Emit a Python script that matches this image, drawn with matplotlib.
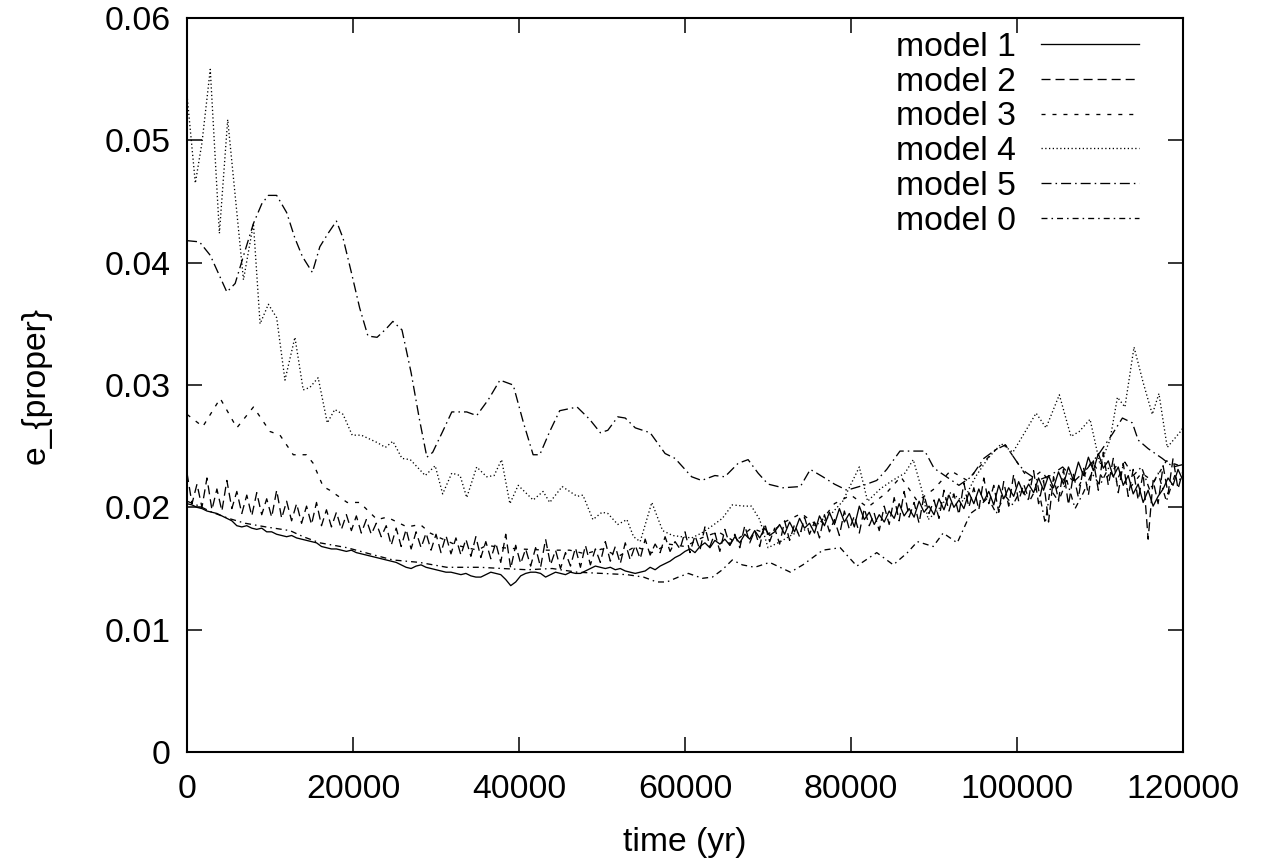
import numpy as np
import matplotlib
matplotlib.use("Agg")
import matplotlib.pyplot as plt

plt.rcParams['font.family'] = ['Liberation Sans', 'DejaVu Sans']
plt.rcParams['lines.scale_dashes'] = False

# ---------------- data ----------------
STEP = 600  # regular sampling of the noisy series (yr)

model1 = [
    0.0203, 0.0202, 0.0200, 0.0199, 0.0197, 0.0196, 0.0195, 0.0193, 0.0191, 0.0189,
    0.0185, 0.0184, 0.0185, 0.0183, 0.0182, 0.0183, 0.0180, 0.0180, 0.0178, 0.0177,
    0.0176, 0.0177, 0.0175, 0.0174, 0.0173, 0.0172, 0.0171, 0.0168, 0.0167, 0.0166,
    0.0166, 0.0165, 0.0164, 0.0165, 0.0163, 0.0162, 0.0161, 0.0160, 0.0159, 0.0158,
    0.0157, 0.0156, 0.0155, 0.0153, 0.0151, 0.0150, 0.0152, 0.0153, 0.0151, 0.0150,
    0.0149, 0.0148, 0.0147, 0.0147, 0.0146, 0.0145, 0.0146, 0.0144, 0.0143, 0.0143,
    0.0145, 0.0147, 0.0146, 0.0145, 0.0141, 0.0136, 0.0139, 0.0144, 0.0146, 0.0147,
    0.0147, 0.0146, 0.0143, 0.0145, 0.0147, 0.0146, 0.0145, 0.0147, 0.0146, 0.0146,
    0.0148, 0.0150, 0.0152, 0.0151, 0.0150, 0.0151, 0.0149, 0.0150, 0.0148, 0.0147,
    0.0146, 0.0147, 0.0148, 0.0151, 0.0149, 0.0152, 0.0154, 0.0156, 0.0159, 0.0161,
    0.0164, 0.0166, 0.0163, 0.0168, 0.0171, 0.0167, 0.0173, 0.0170, 0.0174, 0.0169,
    0.0176, 0.0171, 0.0178, 0.0174, 0.0181, 0.0175, 0.0183, 0.0177, 0.0180, 0.0186,
    0.0178, 0.0188, 0.0180, 0.0191, 0.0183, 0.0187, 0.0179, 0.0193, 0.0185, 0.0196,
    0.0186, 0.0199, 0.0188, 0.0195, 0.0184, 0.0201, 0.0190, 0.0196, 0.0186, 0.0194,
    0.0188, 0.0197, 0.0191, 0.0203, 0.0193, 0.0199, 0.0192, 0.0205, 0.0196, 0.0201,
    0.0194, 0.0207, 0.0198, 0.0210, 0.0200, 0.0206, 0.0199, 0.0212, 0.0203, 0.0215,
    0.0205, 0.0213, 0.0202, 0.0218, 0.0207, 0.0216, 0.0209, 0.0221, 0.0211, 0.0219,
    0.0212, 0.0224, 0.0214, 0.0226, 0.0216, 0.0229, 0.0219, 0.0233, 0.0222, 0.0237,
    0.0226, 0.0241, 0.0230, 0.0244, 0.0232, 0.0238, 0.0225, 0.0233, 0.0218, 0.0226,
    0.0211, 0.0219, 0.0204, 0.0214, 0.0201, 0.0209, 0.0215, 0.0224, 0.0218, 0.0231,
    0.0222,
]

model2 = [
    0.0228, 0.0203, 0.0219, 0.0200, 0.0224, 0.0198, 0.0215, 0.0197, 0.0222, 0.0199,
    0.0213, 0.0195, 0.0210, 0.0193, 0.0212, 0.0194, 0.0207, 0.0192, 0.0214, 0.0191,
    0.0205, 0.0189, 0.0203, 0.0187, 0.0201, 0.0186, 0.0204, 0.0185, 0.0198, 0.0184,
    0.0196, 0.0182, 0.0194, 0.0181, 0.0193, 0.0179, 0.0190, 0.0178, 0.0187, 0.0176,
    0.0185, 0.0169, 0.0183, 0.0168, 0.0182, 0.0166, 0.0180, 0.0167, 0.0179, 0.0165,
    0.0178, 0.0163, 0.0177, 0.0162, 0.0175, 0.0161, 0.0174, 0.0160, 0.0176, 0.0159,
    0.0172, 0.0158, 0.0171, 0.0155, 0.0178, 0.0150, 0.0169, 0.0154, 0.0166, 0.0152,
    0.0167, 0.0151, 0.0174, 0.0153, 0.0165, 0.0150, 0.0163, 0.0152, 0.0167, 0.0151,
    0.0169, 0.0153, 0.0166, 0.0155, 0.0172, 0.0156, 0.0168, 0.0154, 0.0171, 0.0157,
    0.0169, 0.0158, 0.0174, 0.0161, 0.0170, 0.0163, 0.0176, 0.0164, 0.0172, 0.0166,
    0.0180, 0.0163, 0.0177, 0.0165, 0.0184, 0.0168, 0.0179, 0.0164, 0.0182, 0.0169,
    0.0178, 0.0167, 0.0185, 0.0171, 0.0181, 0.0168, 0.0187, 0.0172, 0.0183, 0.0170,
    0.0189, 0.0173, 0.0186, 0.0176, 0.0192, 0.0178, 0.0188, 0.0175, 0.0194, 0.0180,
    0.0190, 0.0177, 0.0197, 0.0182, 0.0193, 0.0179, 0.0199, 0.0185, 0.0195, 0.0181,
    0.0201, 0.0186, 0.0208, 0.0189, 0.0213, 0.0192, 0.0204, 0.0187, 0.0210, 0.0195,
    0.0206, 0.0191, 0.0214, 0.0197, 0.0211, 0.0194, 0.0220, 0.0200, 0.0216, 0.0198,
    0.0224, 0.0203, 0.0218, 0.0196, 0.0221, 0.0201, 0.0227, 0.0205, 0.0219, 0.0207,
    0.0230, 0.0203, 0.0222, 0.0188, 0.0225, 0.0206, 0.0231, 0.0202, 0.0227, 0.0208,
    0.0233, 0.0210, 0.0238, 0.0214, 0.0245, 0.0218, 0.0240, 0.0212, 0.0236, 0.0209,
    0.0231, 0.0206, 0.0228, 0.0174, 0.0222, 0.0203, 0.0234, 0.0211, 0.0240, 0.0215,
    0.0230,
]

model3_t = [0, 1900, 4000, 6000, 8000, 10000, 11200, 12800, 14400, 15200, 16400, 17200,
            19300, 20800, 22900, 24100, 26500, 28100, 29300, 30500, 32500, 35000, 36100,
            38000, 40000, 43400, 46100, 48000, 50000, 52000, 54000, 56000, 58000, 60000,
            62000, 64000, 66000, 68000, 70000, 72000, 74000, 76000, 78000, 80000, 82000,
            84300, 86000, 88000, 90000, 92000, 94000, 96000, 97400, 98600, 100200, 101500,
            103000, 104500, 106000, 107500, 109000, 110500, 112000, 113500, 115000, 116500,
            118000, 120000]
model3_e = [0.0276, 0.0266, 0.0289, 0.0265, 0.0282, 0.0262, 0.0259, 0.0243, 0.0243, 0.0236,
            0.0217, 0.0214, 0.0204, 0.0204, 0.0190, 0.0192, 0.0184, 0.0186, 0.0179, 0.0175,
            0.0169, 0.0165, 0.0169, 0.0167, 0.0166, 0.0165, 0.0165, 0.0162, 0.0166, 0.0160,
            0.0168, 0.0163, 0.0170, 0.0168, 0.0175, 0.0180, 0.0172, 0.0183, 0.0178, 0.0188,
            0.0195, 0.0185, 0.0203, 0.0210, 0.0200, 0.0212, 0.0225, 0.0205, 0.0215, 0.0230,
            0.0222, 0.0237, 0.0247, 0.0251, 0.0235, 0.0222, 0.0230, 0.0213, 0.0226, 0.0218,
            0.0238, 0.0222, 0.0234, 0.0215, 0.0228, 0.0221, 0.0238, 0.0233]

model4_t = [0, 1000, 1800, 2800, 3900, 4900, 6800, 8000, 8800, 9800, 10800, 11800, 13000,
            14000, 14800, 15800, 16900, 17800, 18800, 19900, 21000, 22900, 23900, 24800,
            25900, 26900, 28700, 29900, 30800, 31900, 32900, 33700, 34900, 36100, 37000,
            37900, 38900, 39900, 41700, 42900, 43700, 45200, 47000, 47700, 48900, 50000,
            50700, 51900, 53000, 53800, 54600, 56000, 57300, 58500, 59600, 60800, 62000,
            63300, 64500, 65700, 67200, 68000, 69000, 70000, 71500, 73000, 75000, 77000,
            79000, 81000, 82000, 83500, 85000, 86500, 87500, 88500, 89300, 90500, 92000,
            93500, 95000, 96500, 98100, 99500, 101000, 102300, 103500, 105100, 106500,
            107500, 108800, 110000, 111200, 112100, 113000, 114100, 115200, 116300, 117100,
            118100, 119700, 120000]
model4_e = [0.0537, 0.0465, 0.0498, 0.0558, 0.0424, 0.0517, 0.0386, 0.0432, 0.0350, 0.0366,
            0.0355, 0.0304, 0.0339, 0.0296, 0.0298, 0.0306, 0.0269, 0.0280, 0.0276, 0.0259,
            0.0259, 0.0253, 0.0249, 0.0254, 0.0240, 0.0239, 0.0226, 0.0234, 0.0211, 0.0228,
            0.0226, 0.0208, 0.0233, 0.0225, 0.0226, 0.0239, 0.0203, 0.0218, 0.0206, 0.0213,
            0.0204, 0.0217, 0.0209, 0.0210, 0.0190, 0.0196, 0.0195, 0.0186, 0.0190, 0.0176,
            0.0172, 0.0204, 0.0181, 0.0177, 0.0176, 0.0175, 0.0179, 0.0185, 0.0191, 0.0202,
            0.0201, 0.0201, 0.0190, 0.0167, 0.0172, 0.0178, 0.0183, 0.0190, 0.0205, 0.0233,
            0.0205, 0.0215, 0.0222, 0.0228, 0.0239, 0.0215, 0.0190, 0.0198, 0.0212, 0.0205,
            0.0225, 0.0240, 0.0252, 0.0245, 0.0262, 0.0277, 0.0265, 0.0292, 0.0258, 0.0262,
            0.0272, 0.0235, 0.0255, 0.0290, 0.0282, 0.0331, 0.0302, 0.0276, 0.0293, 0.0249,
            0.0262, 0.0265]

model5_t = [0, 1500, 2800, 4000, 4800, 5800, 7000, 8000, 9000, 9800, 10800, 12000, 13000,
            13900, 15100, 16000, 17000, 18000, 18800, 19800, 20800, 21800, 22900, 24000,
            24800, 25900, 27000, 28000, 28900, 29600, 30800, 31900, 33700, 34900, 36300,
            37700, 39300, 40500, 41700, 42500, 43700, 44900, 47000, 48500, 49800, 50700,
            51900, 52800, 54000, 55800, 57600, 58800, 60800, 62000, 63600, 64800, 66400,
            67600, 68800, 70000, 71800, 73900, 75100, 76600, 78000, 79500, 81500, 83100,
            84300, 85900, 88900, 90000, 91500, 93000, 94500, 96000, 97400, 98600, 100200,
            101000, 102500, 104000, 105500, 107000, 108500, 110000, 111500, 112700, 113900,
            114600, 115800, 117500, 118800, 120000]
model5_e = [0.0418, 0.0417, 0.0406, 0.0388, 0.0376, 0.0383, 0.0410, 0.0432, 0.0448, 0.0455,
            0.0455, 0.0441, 0.0420, 0.0405, 0.0392, 0.0413, 0.0424, 0.0434, 0.0420, 0.0392,
            0.0363, 0.0340, 0.0339, 0.0346, 0.0352, 0.0345, 0.0310, 0.0272, 0.0241, 0.0245,
            0.0262, 0.0278, 0.0278, 0.0275, 0.0288, 0.0304, 0.0300, 0.0270, 0.0243, 0.0243,
            0.0262, 0.0279, 0.0282, 0.0272, 0.0261, 0.0263, 0.0274, 0.0273, 0.0265, 0.0261,
            0.0244, 0.0240, 0.0225, 0.0222, 0.0226, 0.0225, 0.0236, 0.0239, 0.0228, 0.0219,
            0.0216, 0.0217, 0.0231, 0.0225, 0.0219, 0.0214, 0.0218, 0.0222, 0.0231, 0.0246,
            0.0246, 0.0232, 0.0225, 0.0218, 0.0225, 0.0240, 0.0247, 0.0251, 0.0235, 0.0229,
            0.0222, 0.0226, 0.0233, 0.0222, 0.0232, 0.0245, 0.0260, 0.0273, 0.0269, 0.0255,
            0.0248, 0.0240, 0.0233, 0.0235]

model0_t = [0, 1500, 3000, 5000, 7000, 9500, 12400, 14000, 16000, 19300, 22000, 24800,
            28000, 31300, 35300, 38000, 41000, 44000, 47000, 50000, 53000, 55000, 56600,
            57800, 59200, 60400, 62100, 63300, 64500, 65700, 66900, 68400, 70200, 72700,
            74200, 76600, 78700, 80700, 83100, 85100, 86800, 88000, 89900, 91100, 92800,
            94400, 95200, 96500, 97500, 98500, 99500, 100500, 101500, 102500, 103400, 104000,
            105000, 106000, 107000, 108000, 109000, 110000, 111000, 112000, 113000, 114000,
            115000, 116000, 117000, 118000, 119000, 120000]
model0_e = [0.0205, 0.0201, 0.0196, 0.0191, 0.0187, 0.0184, 0.0181, 0.0176, 0.0171, 0.0167,
            0.0162, 0.0157, 0.0155, 0.0151, 0.0151, 0.0150, 0.0149, 0.0150, 0.0147, 0.0146,
            0.0145, 0.0143, 0.0139, 0.0139, 0.0143, 0.0146, 0.0142, 0.0143, 0.0149, 0.0157,
            0.0153, 0.0151, 0.0155, 0.0147, 0.0153, 0.0165, 0.0167, 0.0152, 0.0163, 0.0153,
            0.0163, 0.0172, 0.0168, 0.0179, 0.0171, 0.0195, 0.0199, 0.0208, 0.0195, 0.0210,
            0.0202, 0.0215, 0.0205, 0.0218, 0.0187, 0.0215, 0.0205, 0.0222, 0.0199, 0.0212,
            0.0228, 0.0218, 0.0232, 0.0221, 0.0237, 0.0226, 0.0233, 0.0214, 0.0228, 0.0205,
            0.0226, 0.0221]

x_ticks = [0, 20000, 40000, 60000, 80000, 100000, 120000]
y_ticks = [0, 0.01, 0.02, 0.03, 0.04, 0.05, 0.06]
x_tick_labels = ["0", "20000", "40000", "60000", "80000", "100000", "120000"]
y_tick_labels = ["0", "0.01", "0.02", "0.03", "0.04", "0.05", "0.06"]

# ---------------- plot ----------------
fig = plt.figure(figsize=(12.62, 8.65), dpi=100)
ax = fig.add_axes([0.1482, 0.1306, 0.7892, 0.8486])

t12 = np.arange(len(model1)) * STEP
LW = 0.95
ax.plot(t12, model1, color='black', lw=LW, linestyle='-', label='model 1')
ax.plot(t12, model2, color='black', lw=LW, dashes=(6.5, 3.6), label='model 2')
ax.plot(model3_t, model3_e, color='black', lw=LW, dashes=(2.9, 5.0), label='model 3')
ax.plot(model4_t, model4_e, color='black', lw=LW, dashes=(0.9, 1.8), label='model 4')
ax.plot(model5_t, model5_e, color='black', lw=LW, dashes=(7.2, 2.9, 1.1, 2.9), label='model 5')
ax.plot(model0_t, model0_e, color='black', lw=LW, dashes=(4.3, 2.9, 1.1, 2.9), label='model 0')

ax.set_xlim(0, 120000)
ax.set_ylim(0, 0.06)
ax.set_xticks(x_ticks)
ax.set_xticklabels(x_tick_labels)
ax.set_yticks(y_ticks)
ax.set_yticklabels(y_tick_labels)
ax.minorticks_off()

FS = 24.3
ax.tick_params(axis='both', which='major', direction='in', length=10.8, width=1.1,
               top=True, right=True, labelsize=FS, colors='black')
ax.tick_params(axis='x', pad=16)
ax.tick_params(axis='y', pad=12)
for s in ax.spines.values():
    s.set_linewidth(1.5)

ax.set_xlabel('time (yr)', fontsize=FS, labelpad=16)
ax.set_ylabel('e_{proper}', fontsize=FS, labelpad=38)

leg = ax.legend(loc='upper right', bbox_to_anchor=(0.956, 0.981), frameon=False,
                markerfirst=False, fontsize=FS, handlelength=2.9, handletextpad=0.75,
                labelspacing=0.11, borderpad=0, borderaxespad=0)

fig.savefig('out.png', dpi=100)
